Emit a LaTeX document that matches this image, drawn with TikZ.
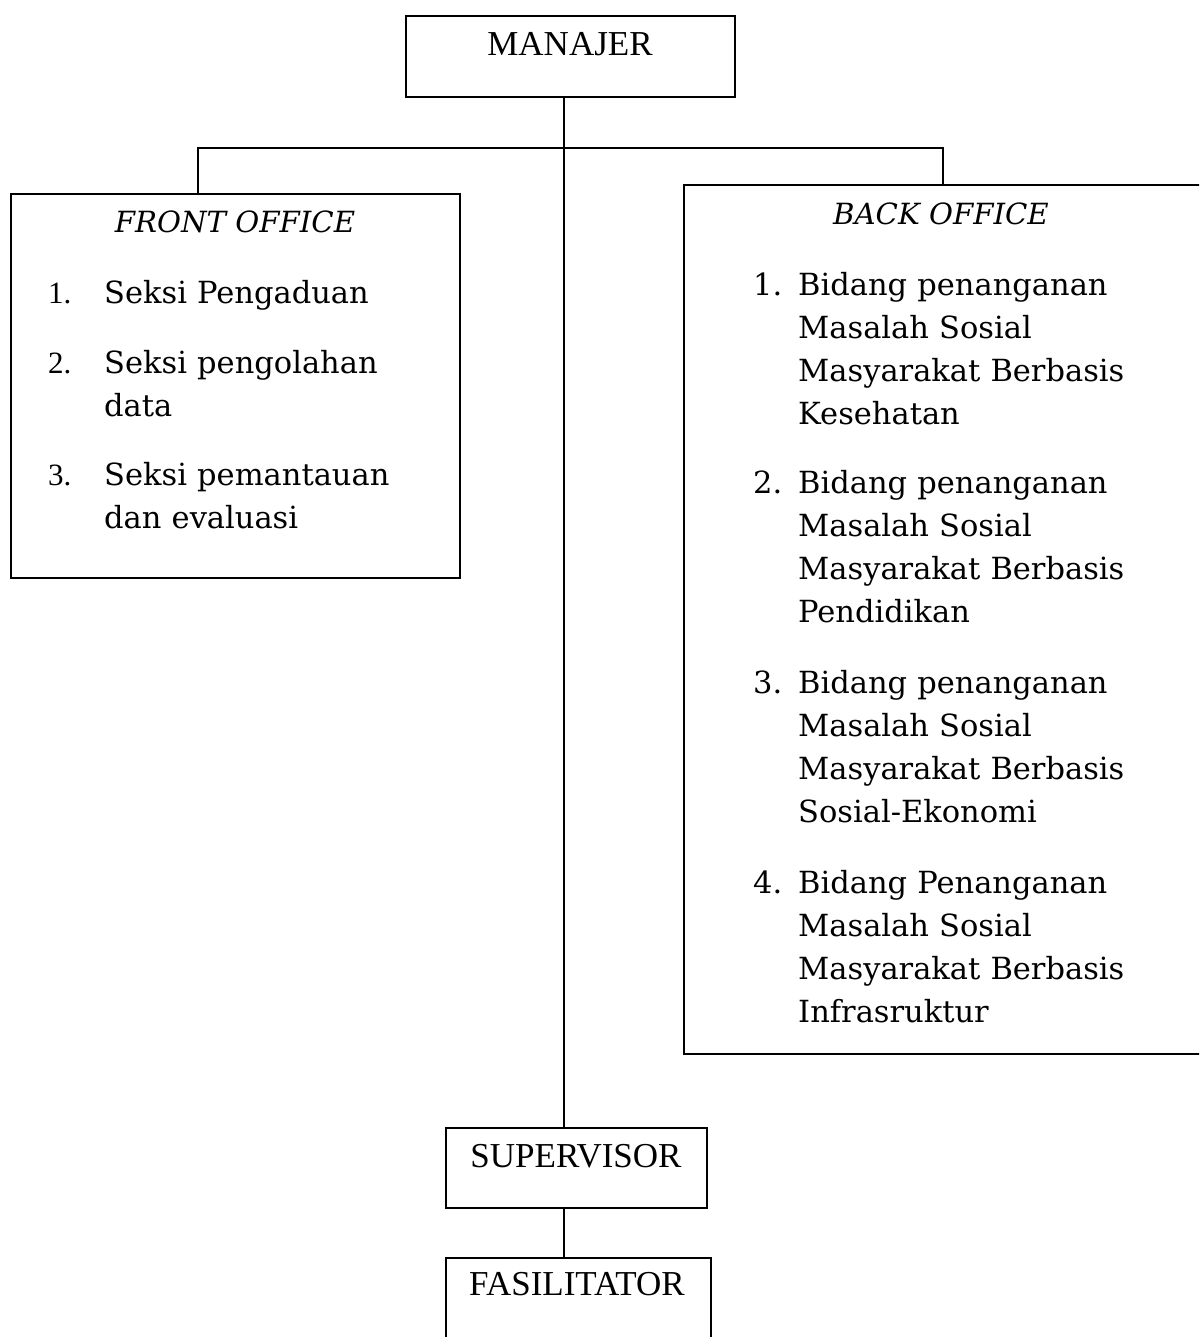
\documentclass[tikz,border=0pt]{standalone}
\usepackage{fontspec}
\setmainfont{Liberation Serif}
\newfontfamily\bk{DejaVu Serif}
\begin{document}
\begin{tikzpicture}[x=1pt,y=-1pt,
  box/.style={draw, line width=2.2pt, inner sep=0pt, anchor=north west},
  conn/.style={line width=1.8pt},
  title/.style={font=\fontsize{35}{40}\selectfont, anchor=base, inner sep=0pt},
  head/.style={font=\bk\itshape\fontsize{29.2}{43}\selectfont, anchor=base, inner sep=0pt},
  item/.style={font=\bk\fontsize{30.5}{43}\selectfont, anchor=base west, inner sep=0pt, align=left, text width=420pt},
  fonum/.style={font=\fontsize{31}{43}\selectfont, anchor=base west, inner sep=0pt},
  bonum/.style={font=\bk\fontsize{30.5}{43}\selectfont, anchor=base west, inner sep=0pt}
]
\useasboundingbox (0,0) rectangle (1199,1337);
\clip (0,0) rectangle (1199,1337);

% boxes
\node[box, minimum width=329pt, minimum height=81pt] (manajer) at (405,15) {};
\node[box, minimum width=449pt, minimum height=384pt] (fo) at (10,193) {};
\node[box, minimum width=540pt, minimum height=869pt] (bo) at (683,184) {};
\node[box, minimum width=261pt, minimum height=80pt] (supervisor) at (445,1127) {};
\node[box, minimum width=265pt, minimum height=120pt] (fasilitator) at (445,1257) {};

% connector helpers
\coordinate (trunk) at (564,148);
\coordinate (hl) at (198,148);
\coordinate (hr) at (943,148);

\draw[conn] (manajer.south -| trunk) -- (supervisor.north -| trunk);
\draw[conn] (fo.north -| hl) -- (hl) -- (hr) -- (bo.north -| hr);
\draw[conn] (supervisor.south -| trunk) -- (fasilitator.north -| trunk);

% titles
\node[title] (tman) at (570,56) {MANAJER};
\node[title] (tsup) at (576,1167) {SUPERVISOR};
\node[title] (tfas) at (577,1295) {FASILITATOR};

% front office
\node[head] (fohead) at (235,233) {FRONT OFFICE};
\node[fonum] (fon1) at (48,303) {1.};
\node[fonum] (fon2) at (48,373) {2.};
\node[fonum] (fon3) at (48,485) {3.};
\node[item] (foi1) at (104,303) {Seksi Pengaduan};
\node[item] (foi2) at (104,373) {Seksi pengolahan\\data};
\node[item] (foi3) at (104,485) {Seksi pemantauan\\dan evaluasi};

% back office
\node[head] (bohead) at (941,225) {BACK OFFICE};
\node[bonum] (bon1) at (753,295) {1.};
\node[bonum] (bon2) at (753,493) {2.};
\node[bonum] (bon3) at (753,693) {3.};
\node[bonum] (bon4) at (753,893) {4.};
\node[item] (boi1) at (798,295) {Bidang penanganan\\Masalah Sosial\\Masyarakat Berbasis\\Kesehatan};
\node[item] (boi2) at (798,493) {Bidang penanganan\\Masalah Sosial\\Masyarakat Berbasis\\Pendidikan};
\node[item] (boi3) at (798,693) {Bidang penanganan\\Masalah Sosial\\Masyarakat Berbasis\\Sosial-Ekonomi};
\node[item] (boi4) at (798,893) {Bidang Penanganan\\Masalah Sosial\\Masyarakat Berbasis\\Infrasruktur};
\end{tikzpicture}
\end{document}
